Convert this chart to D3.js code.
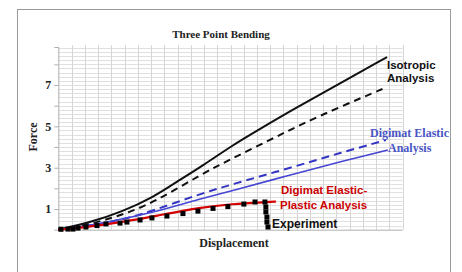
<!DOCTYPE html>
<html>
<head>
<meta charset="utf-8">
<script src="https://cdn.jsdelivr.net/npm/d3@7"></script>
<style>
  html, body { margin: 0; padding: 0; background: #fff; }
  svg { display: block; }
</style>
</head>
<body>
<svg id="chart" width="462" height="272"></svg>
<script>
// ---- data (displacement in grid units, force) ----
const isotropic = [[0,0],[2.24,0.32],[4.81,0.86],[7.30,1.63],[8.43,2.11],[11.08,3.17],[13.04,4.04],[15.46,4.96],[17.50,5.73],[21.27,7.09],[24.82,8.35]];
const isotropicDashed = [[0,0],[2.24,0.23],[4.81,0.71],[7.30,1.34],[10.69,2.65],[13.04,3.42],[15.97,4.34],[18.24,5.07],[21.26,5.94],[24.81,6.90]];
const elastic = [[0,0],[2.24,0.18],[4.81,0.52],[7.30,0.86],[10.69,1.49],[13.04,1.87],[17.49,2.65],[21.26,3.28],[24.88,3.86]];
const elasticDashed = [[0,0],[2.24,0.18],[4.81,0.47],[7.30,0.95],[10.69,1.73],[13.04,2.18],[17.49,2.99],[21.26,3.71],[24.73,4.34]];
const elasticPlastic = [[0,0],[2.24,0.13],[4.81,0.37],[7.30,0.66],[10.84,1.09],[13.04,1.24],[15.75,1.34],[16.43,1.36]];
const experiment = [[0.2,0.02],[0.73,0.03],[1.11,0.03],[1.49,0.08],[2.09,0.13],[2.92,0.20],[3.60,0.28],[4.66,0.32],[5.18,0.37],[6.17,0.47],[7.07,0.57],[8.20,0.66],[9.41,0.78],[10.54,0.90],[11.68,1.03],[12.80,1.12],[14.01,1.24],[14.85,1.34],[15.60,1.34],[15.67,1.10],[15.67,0.86],[15.75,0.61],[15.75,0.37],[15.83,0.13]];
const yTickValues = [1,2,3,4,5,6,7,8];
const yTickLabels = ["1","","3","","5","","7",""];

const svg = d3.select("#chart");

// outer frame
svg.append("rect").attr("x",17.5).attr("y",9.5).attr("width",433).attr("height",280)
  .attr("fill","#fff").attr("stroke","#9a9a9a").attr("stroke-width",1);

const x = d3.scaleLinear().domain([0,26]).range([58.3,402.7]);
const y = d3.scaleLinear().domain([0,8.84]).range([229.7,47]);

// grid
const g = svg.append("g");
g.selectAll("line.h").data(d3.range(0.2, 8.84, 0.2)).join("line")
  .attr("x1",x(0)).attr("x2",x(26))
  .attr("y1",d=>Math.round(y(d))+0.5).attr("y2",d=>Math.round(y(d))+0.5)
  .attr("stroke","#e0e0e0").attr("stroke-width",1);
g.selectAll("line.v").data(d3.range(1,27)).join("line")
  .attr("x1",d=>Math.round(x(d))+0.5).attr("x2",d=>Math.round(x(d))+0.5)
  .attr("y1",y(8.84)-2).attr("y2",y(0))
  .attr("stroke","#d6d6d6").attr("stroke-width",1);

// axes
const yAxis = d3.axisLeft(y).tickValues(yTickValues).tickSize(4).tickPadding(3)
  .tickFormat((d,i)=>yTickLabels[i]);
const ya = svg.append("g").attr("transform",`translate(${x(0)},0)`).call(yAxis);
ya.select(".domain").attr("stroke","#b0b0b0");
ya.selectAll(".tick line").attr("stroke","#b0b0b0");
ya.selectAll(".tick text").attr("font-family","'Liberation Serif', serif")
  .attr("font-weight","bold").attr("font-size","12px").attr("fill","#222");

svg.append("line").attr("x1",x(0)).attr("x2",x(26)).attr("y1",y(0)+0.5).attr("y2",y(0)+0.5)
  .attr("stroke","#b0b0b0");

// lines
const line = d3.line().x(d=>x(d[0])).y(d=>y(d[1])).curve(d3.curveBasis);
function drawLine(data, color, width, dash){
  svg.append("path").datum(data).attr("d",line).attr("fill","none")
    .attr("stroke",color).attr("stroke-width",width)
    .attr("stroke-dasharray",dash||null);
}
drawLine(isotropicDashed,"#111",2,"7,5");
drawLine(isotropic,"#111",2);
drawLine(elasticDashed,"#3434c4",2,"8,5");
drawLine(elastic,"#4646d4",1.6);
drawLine(elasticPlastic,"#d40000",2.2);

// experiment markers
svg.selectAll("rect.exp").data(experiment).join("rect")
  .attr("x",d=>x(d[0])-2.5).attr("y",d=>y(d[1])-2.5)
  .attr("width",5).attr("height",5).attr("fill","#000");

// texts
function txt(t,xx,yy,opts){
  return svg.append("text").attr("x",xx).attr("y",yy).text(t)
    .attr("font-family",opts.serif?"'Liberation Serif', serif":"'Liberation Sans', Arial, sans-serif")
    .attr("font-weight","bold").attr("font-size",opts.size+"px").attr("fill",opts.color||"#111")
    .attr("text-anchor",opts.anchor||"start");
}
txt("Three Point Bending",221,38,{serif:true,size:11,anchor:"middle",color:"#222"});
txt("Displacement",234,247,{serif:true,size:12,anchor:"middle",color:"#222"});
svg.append("text").attr("transform","translate(37,137) rotate(-90)").text("Force")
  .attr("font-family","'Liberation Serif', serif").attr("font-weight","bold")
  .attr("font-size","12px").attr("fill","#222").attr("text-anchor","middle");

txt("Isotropic",387,69,{size:11.5});
txt("Analysis",387,82,{size:11.5});
txt("Digimat Elastic",370,137,{serif:true,size:12,color:"#4a55c4"});
txt("Analysis",388,152,{serif:true,size:12,color:"#4a55c4"});
txt("Digimat Elastic-",281,194,{size:11.5,color:"#cc0000"});
txt("Plastic Analysis",280,209,{size:11.5,color:"#cc0000"});
txt("Experiment",272,228,{size:12,color:"#111"});
</script>
</body>
</html>
